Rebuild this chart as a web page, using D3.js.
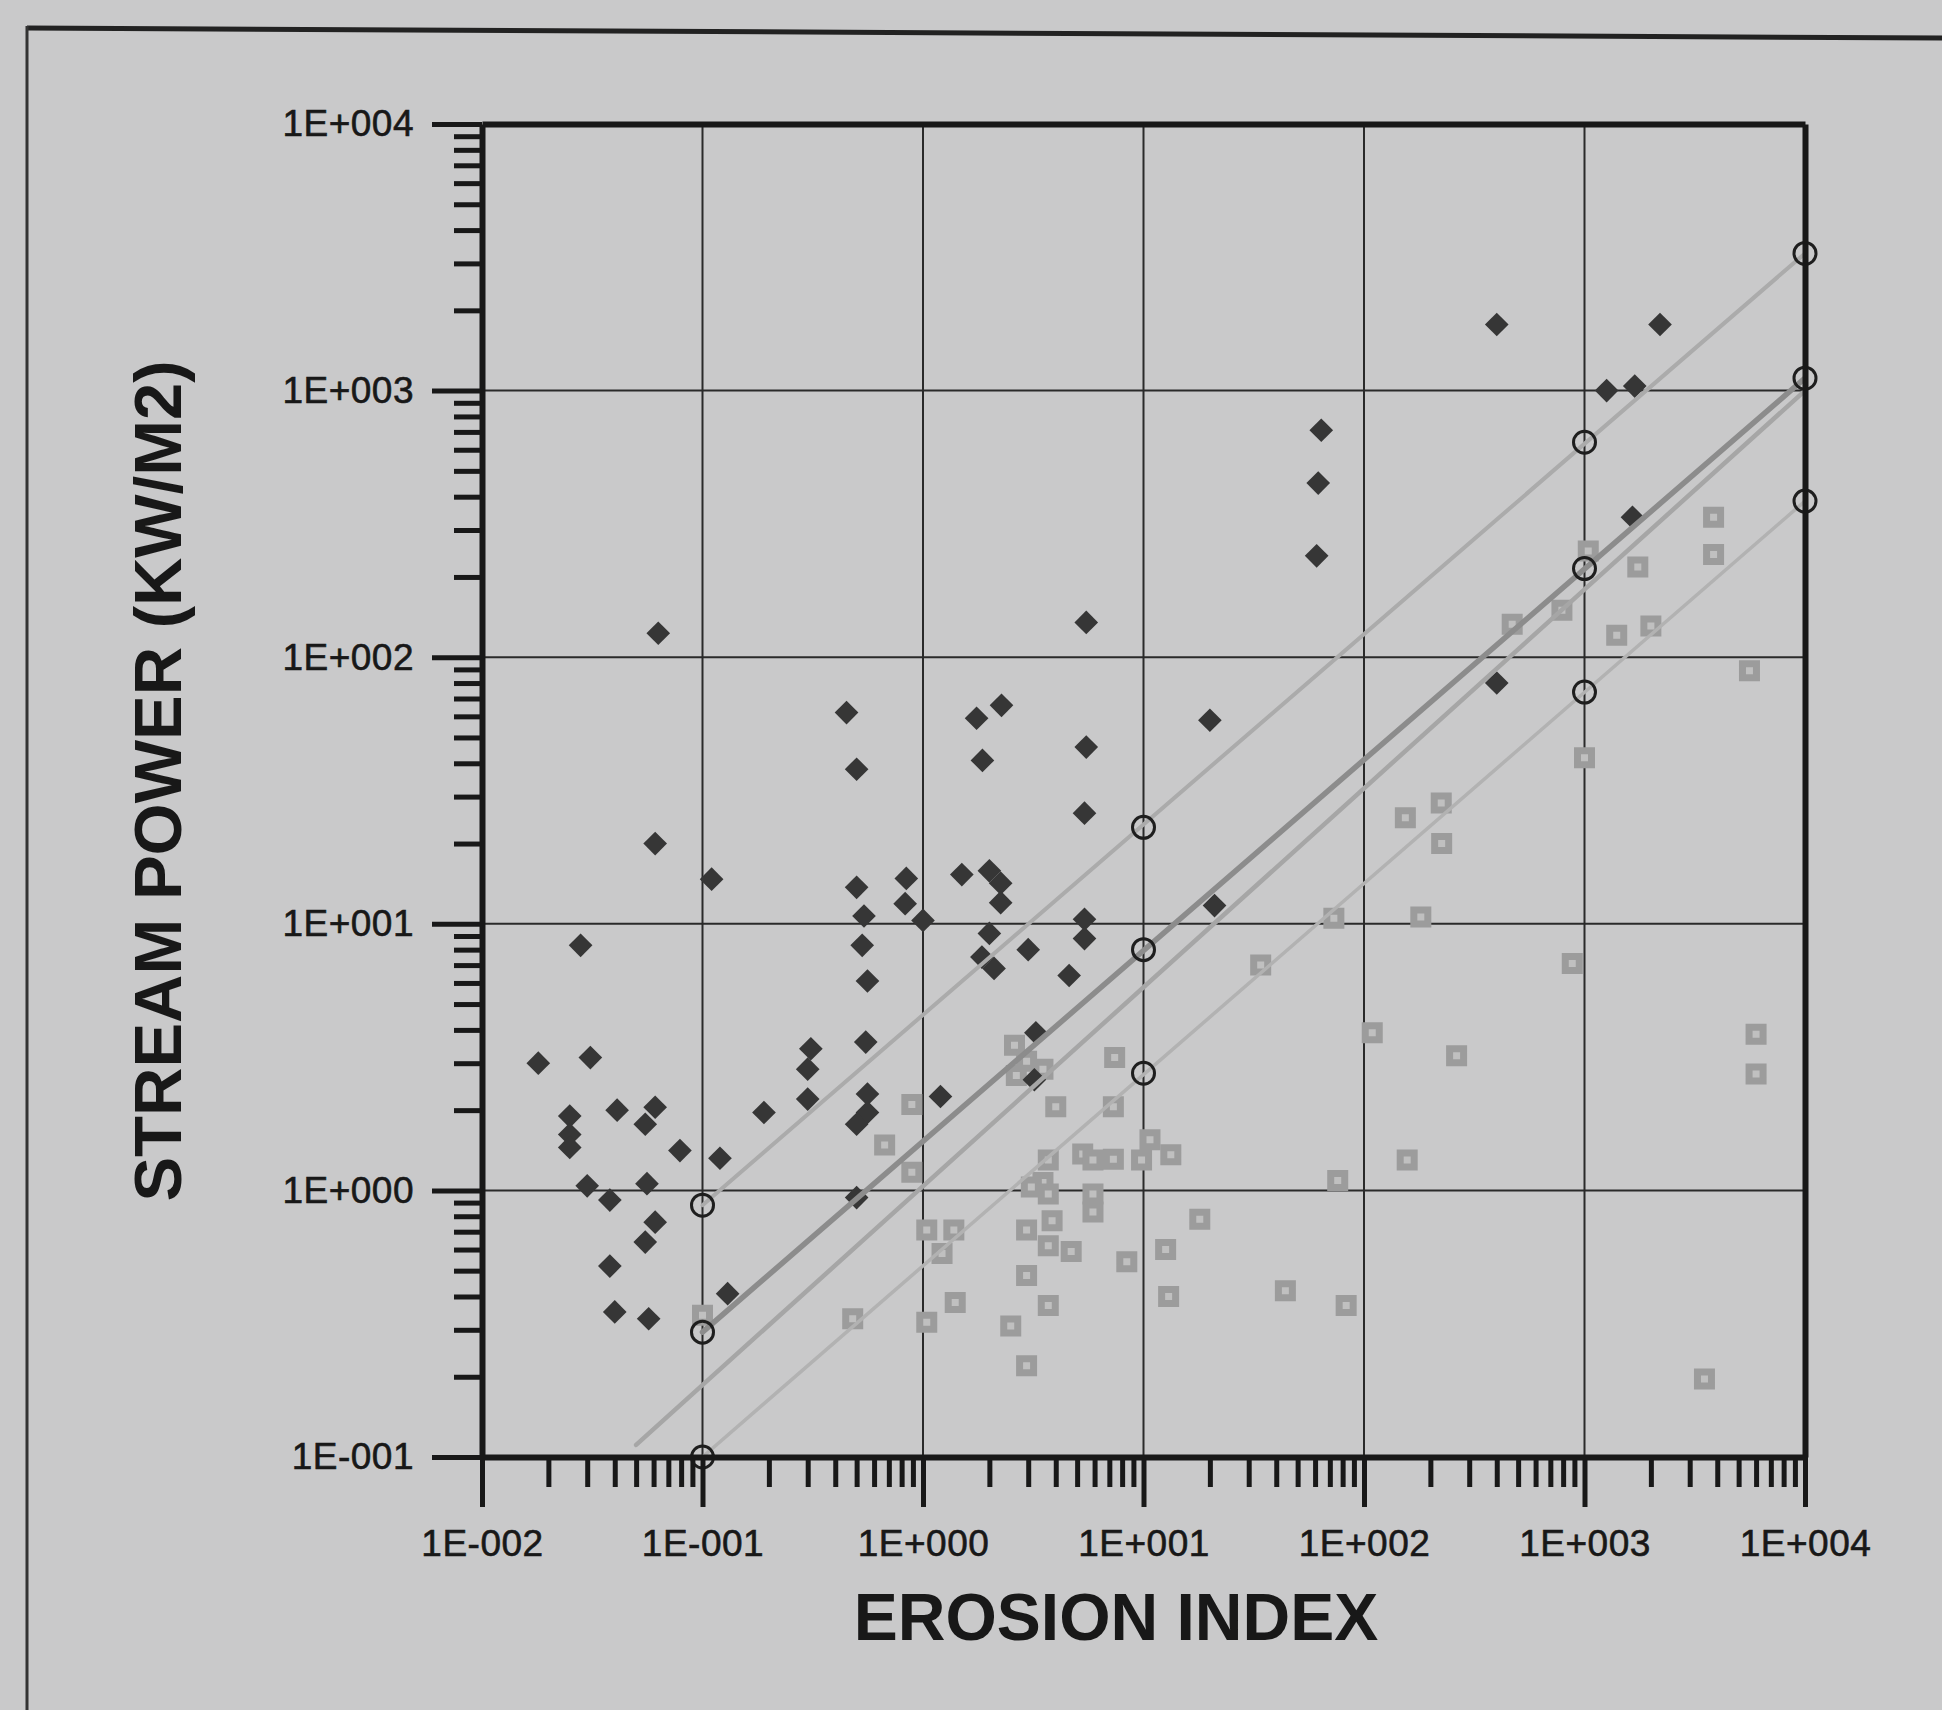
<!DOCTYPE html>
<html>
<head>
<meta charset="utf-8">
<script src="https://cdn.jsdelivr.net/npm/d3@7"></script>
<style>
  html, body { margin: 0; padding: 0; background: #c9c9ca; }
  svg { display: block; }
</style>
</head>
<body>
<svg id="chart" width="1942" height="1710"></svg>
<script>
// ---------------- DATA ----------------
// Axis ticks (decades)
const xTickValues = [0.01, 0.1, 1, 10, 100, 1000, 10000];
const yTickValues = [0.1, 1, 10, 100, 1000, 10000];
const xAxisTitle = "EROSION INDEX";
const yAxisTitle = "STREAM POWER (KW/M2)";

// Dark diamonds [erosion index, stream power]
const diamondSeries = [
  [0.018,3.0],[0.031,3.15],[0.025,1.9],[0.025,1.62],[0.025,1.45],[0.041,2.0],[0.061,2.05],
  [0.055,1.77],[0.079,1.41],[0.12,1.32],[0.030,1.04],[0.056,1.06],[0.038,0.92],[0.061,0.76],
  [0.055,0.64],[0.038,0.52],[0.040,0.35],[0.057,0.33],[0.13,0.41],[0.19,1.96],[0.31,3.4],
  [0.30,2.85],[0.30,2.2],[0.55,3.6],[0.56,2.3],[0.56,1.96],[0.50,1.77],[0.50,0.94],
  [0.063,123],[0.45,62],[0.50,38],[0.061,20],[0.11,14.7],[0.50,13.7],[0.54,10.7],[0.53,8.3],
  [0.56,6.1],[0.028,8.3],[2.27,66],[1.75,59],[1.86,41],[5.5,46],[20,58],[5.4,26],[0.84,14.8],
  [0.83,11.9],[1.0,10.3],[1.5,15.3],[2.0,15.8],[2.25,14.2],[2.25,12.0],[2.0,9.2],[1.85,7.5],
  [2.1,6.8],[3.0,8.0],[5.4,10.4],[5.4,8.8],[4.6,6.4],[21,11.7],[3.25,3.9],[3.2,2.6],[1.2,2.25],
  [5.5,135],[64,710],[62,450],[61,240],[400,1770],[2200,1770],[1260,1000],[1690,1040],
  [1650,335],[400,80]
];

// Grey squares [erosion index, stream power]
const squareSeries = [
  [0.1,0.34],[0.89,2.1],[0.67,1.48],[0.89,1.17],[0.48,0.33],[1.04,0.71],[1.38,0.71],[1.22,0.58],
  [1.4,0.38],[1.04,0.32],[2.6,3.5],[2.65,2.7],[3.5,2.85],[2.95,3.05],[7.4,3.15],[4.0,2.06],
  [7.3,2.06],[3.7,1.3],[5.3,1.37],[5.9,1.3],[7.3,1.31],[9.8,1.3],[10.7,1.55],[13.3,1.36],
  [3.5,1.07],[3.1,1.03],[3.7,0.97],[5.9,0.97],[5.9,0.83],[18,0.78],[3.85,0.77],[2.95,0.71],
  [3.7,0.62],[4.7,0.59],[8.4,0.54],[12.6,0.60],[2.95,0.48],[3.7,0.37],[13,0.40],[2.5,0.31],
  [2.95,0.22],[44,0.42],[83,0.37],[76,1.09],[157,1.3],[109,3.9],[263,3.2],[34,7.0],[73,10.5],
  [181,10.6],[880,7.1],[154,25],[224,28.4],[225,20],[1000,42],[6000,3.85],[6000,2.73],
  [3500,0.196],[470,133],[790,150],[1400,121],[2000,131],[5600,89],[1040,250],[1745,218],
  [3850,335],[3850,243]
];

// Open circles on the band lines
const circlePoints = [
  [0.1,0.88],[10,23],[1000,640],[10000,3270],
  [0.1,0.294],[10,8.0],[1000,215],[10000,1113],
  [0.1,0.1],[10,2.75],[1000,74],[10000,385]
];

// Straight lines (end points)
const bandUpper = [[0.1,0.88],[10000,3270]];
const bandMiddle = [[0.1,0.294],[10000,1113]];
const bandLower = [[0.1,0.1],[10000,385]];
const fitLine = [[0.05,0.111],[10000,1000]];

// ---------------- DRAW ----------------
const svg = d3.select("#chart");
const L = 482, R = 1805, T = 124, B = 1457;
const FONT = "'Liberation Sans', Arial, Helvetica, sans-serif";
const INK = "#181818";

const x = d3.scaleLog().domain([0.01, 10000]).range([L, R]);
const y = d3.scaleLog().domain([0.1, 10000]).range([B, T]);

const fmt = v => {
  const e = Math.round(Math.log10(v));
  return "1E" + (e < 0 ? "-" : "+") + String(Math.abs(e)).padStart(3, "0");
};

// outer frame (photo of a page)
svg.append("path").attr("d", "M27,28 L1942,38").attr("stroke", "#222").attr("stroke-width", 5).attr("fill", "none");
svg.append("path").attr("d", "M27,26 L27,1710").attr("stroke", "#333").attr("stroke-width", 3).attr("fill", "none");

// grid
const grid = svg.append("g");
grid.selectAll("line.gx").data(xTickValues.slice(1, -1)).join("line")
  .attr("x1", d => x(d)).attr("x2", d => x(d)).attr("y1", T).attr("y2", B)
  .attr("stroke", "#2a2a2a").attr("stroke-width", 2);
grid.selectAll("line.gy").data(yTickValues.slice(1, -1)).join("line")
  .attr("x1", L).attr("x2", R).attr("y1", d => y(d)).attr("y2", d => y(d))
  .attr("stroke", "#2a2a2a").attr("stroke-width", 2);

// squares
svg.append("g").selectAll("path").data(squareSeries).join("path")
  .attr("d", d3.symbol(d3.symbolSquare, 196))
  .attr("transform", d => `translate(${x(d[0])},${y(d[1])})`)
  .attr("fill", "#c0c0c0").attr("stroke", "#9c9c9c").attr("stroke-width", 7);

// diamonds
svg.append("g").selectAll("path").data(diamondSeries).join("path")
  .attr("d", d3.symbol(d3.symbolSquare, 280))
  .attr("transform", d => `translate(${x(d[0])},${y(d[1])}) rotate(45)`)
  .attr("fill", "#363636");

// lines
const lineGen = d3.line().x(d => x(d[0])).y(d => y(d[1]));
const lineSpecs = [
  {data: fitLine, color: "#a6a6a6", w: 4.5},
  {data: bandUpper, color: "#ababab", w: 4},
  {data: bandLower, color: "#b2b2b2", w: 3.5},
  {data: bandMiddle, color: "#8c8c8c", w: 5.5}
];
svg.append("g").selectAll("path").data(lineSpecs).join("path")
  .attr("d", d => lineGen(d.data)).attr("fill", "none")
  .attr("stroke", d => d.color).attr("stroke-width", d => d.w).attr("stroke-linecap", "round");

// circles
svg.append("g").selectAll("path").data(circlePoints).join("path")
  .attr("d", d3.symbol(d3.symbolCircle, 380))
  .attr("transform", d => `translate(${x(d[0])},${y(d[1])})`)
  .attr("fill", "none").attr("stroke", "#1e1e1e").attr("stroke-width", 3);

// axes
const xMinor = x.ticks().filter(v => !xTickValues.some(t => Math.abs(t - v) / t < 1e-9));
const yMinor = y.ticks().filter(v => !yTickValues.some(t => Math.abs(t - v) / t < 1e-9));

function styleAxis(g, tickW) {
  g.select(".domain").attr("stroke", INK).attr("stroke-width", 6);
  g.selectAll(".tick line").attr("stroke", INK).attr("stroke-width", tickW);
  g.selectAll(".tick text").attr("fill", INK).attr("font-family", FONT)
    .attr("font-size", 37).attr("letter-spacing", 0.5)
    .attr("stroke", INK).attr("stroke-width", 0.6);
}

svg.append("g").attr("transform", `translate(0,${B})`)
  .call(d3.axisBottom(x).tickValues(xMinor).tickSize(30).tickSizeOuter(0).tickFormat(""))
  .call(g => { styleAxis(g, 5); g.select(".domain").remove(); });
svg.append("g").attr("transform", `translate(${L},0)`)
  .call(d3.axisLeft(y).tickValues(yMinor).tickSize(28).tickSizeOuter(0).tickFormat(""))
  .call(g => { styleAxis(g, 5); g.select(".domain").remove(); });

svg.append("g").attr("transform", `translate(0,${B})`)
  .call(d3.axisBottom(x).tickValues(xTickValues).tickSize(50).tickSizeOuter(0).tickPadding(23).tickFormat(fmt))
  .call(g => styleAxis(g, 5));
svg.append("g").attr("transform", `translate(${L},0)`)
  .call(d3.axisLeft(y).tickValues(yTickValues).tickSize(50).tickSizeOuter(0).tickPadding(18).tickFormat(fmt))
  .call(g => styleAxis(g, 5));
// top and right frame
svg.append("g").attr("transform", `translate(0,${T})`)
  .call(d3.axisTop(x).tickValues([]).tickSizeOuter(0))
  .call(g => styleAxis(g, 5));
svg.append("g").attr("transform", `translate(${R},0)`)
  .call(d3.axisRight(y).tickValues([]).tickSizeOuter(0))
  .call(g => styleAxis(g, 5));

// titles
svg.append("text").attr("x", 1116).attr("y", 1640).attr("text-anchor", "middle")
  .attr("font-family", FONT).attr("font-weight", "bold").attr("font-size", 66)
  .attr("fill", INK).text(xAxisTitle);
svg.append("text").attr("transform", "translate(181,781) rotate(-90)").attr("text-anchor", "middle")
  .attr("font-family", FONT).attr("font-weight", "bold").attr("font-size", 67)
  .attr("fill", INK).text(yAxisTitle);
</script>
</body>
</html>
